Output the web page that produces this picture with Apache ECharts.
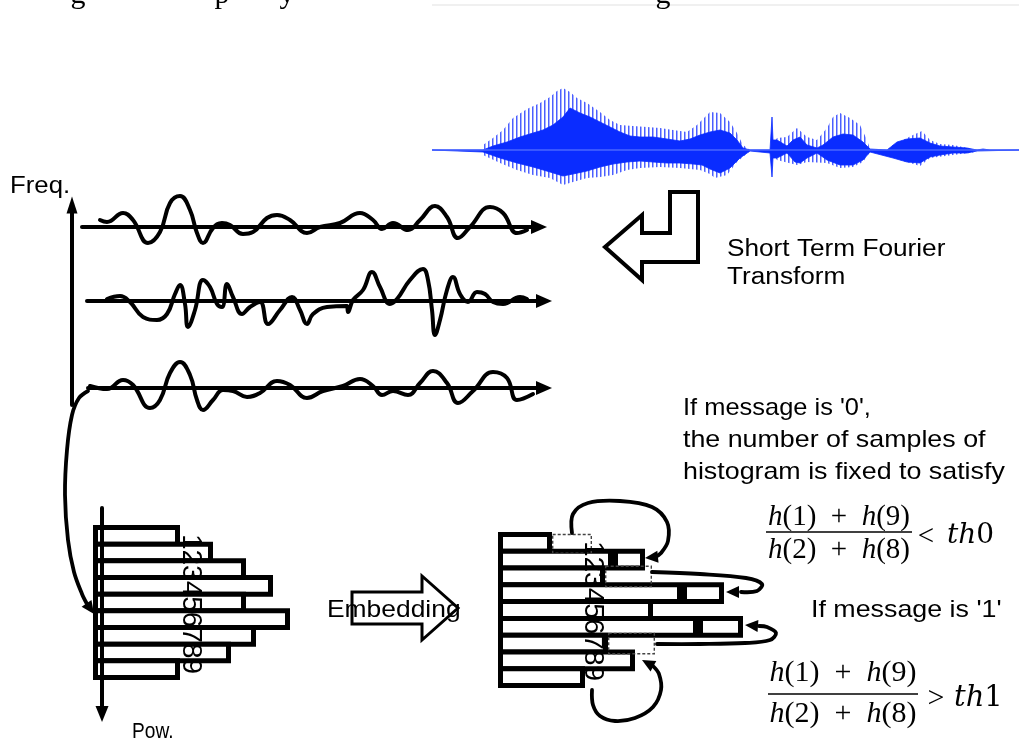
<!DOCTYPE html>
<html><head><meta charset="utf-8">
<script src="https://cdn.jsdelivr.net/npm/echarts@6/dist/echarts.min.js"></script>
<style>html,body{margin:0;padding:0;background:#fff}#c{width:1019px;height:742px}</style>
</head><body><div id="c"></div><script>
// ---------------- DATA ----------------
// speech signal envelope (time units, amplitude units)
const speechBodyUpper = [[17,0],[68,0],[78,4],[92,8],[105,13],[118,17],[128,20],[138,25],[148,33],[155,42],[165,37],[175,33],[185,28],[195,23],[205,18],[215,14],[225,13],[238,13],[252,11],[265,9],[275,11],[285,15],[295,18],[305,20],[315,17],[322,10],[328,2],[335,0],[355,0],[356,0],[357,33],[358,10],[362,10],[372,4],[378,10],[385,13],[392,5],[402,2],[408,5],[418,13],[428,16],[438,15],[448,8],[455,1],[472,0],[482,8],[492,11],[505,12],[515,7],[525,4],[538,3],[552,2],[562,0],[568,1],[575,0],[604,0]];
const speechBodyLower = [[17,0],[68,-2],[85,-8],[102,-13],[118,-17],[135,-22],[148,-26],[158,-24],[172,-21],[185,-17],[198,-14],[212,-12],[225,-11],[238,-12],[252,-13],[265,-13],[278,-14],[287,-15],[295,-19],[305,-23],[315,-18],[325,-8],[335,-1],[355,-3],[356,-3],[357,-27],[358,-8],[362,-8],[372,-3],[380,-12],[385,-13],[392,-8],[402,-3],[412,-10],[425,-15],[438,-15],[448,-10],[455,-2],[478,-8],[492,-12],[505,-13],[515,-7],[525,-5],[538,-3],[552,-3],[562,-1],[604,0]];
const speechPeakUpper = [[68,5],[78,12],[88,20],[98,32],[112,41],[125,47],[135,53],[142,59],[148,62],[155,58],[162,52],[172,47],[185,38],[195,30],[205,25],[218,24],[232,23],[245,22],[258,20],[272,18],[282,25],[290,33],[295,38],[305,37],[315,28],[322,17],[328,5],[335,0],[355,0],[362,12],[372,13],[382,22],[392,13],[402,10],[412,22],[418,33],[425,37],[435,32],[445,25],[452,10],[455,1],[472,0],[478,5],[488,10],[498,15],[507,19],[515,10],[525,6],[538,5],[548,3],[562,0]];
const speechPeakLower = [[68,-5],[85,-13],[102,-20],[118,-25],[135,-28],[148,-35],[158,-32],[172,-28],[185,-27],[198,-25],[212,-20],[225,-18],[245,-17],[265,-18],[285,-20],[295,-24],[300,-28],[312,-25],[322,-12],[335,-1],[355,0],[362,-10],[382,-15],[392,-12],[412,-13],[425,-18],[438,-17],[448,-12],[455,-2],[472,0],[485,-10],[505,-16],[515,-8],[538,-5],[562,-2]];
const speechBaseline = [[17,0],[604,0]];

// three frequency-band signals after STFT (time, amplitude)
const band1 = [[18,7],[25,5],[41,14],[51,7],[66,-16],[78,-5],[88,24],[98,31],[108,17],[115,-6],[121,-16],[131,-1],[140,4],[148,2],[161,-7],[171,-5],[185,9],[195,12],[208,7],[225,-6],[238,0],[258,4],[278,14],[291,7],[300,-2],[311,4],[326,-3],[338,7],[353,21],[365,10],[376,-11],[388,0],[408,20],[421,14],[435,-6],[445,-3]];
const band2 = [[25,2],[38,5],[48,-1],[61,-16],[75,-19],[85,-13],[93,7],[98,16],[103,-3],[106,-26],[113,-9],[121,21],[128,14],[135,-3],[140,-6],[145,17],[151,4],[160,-13],[168,-6],[178,-1],[186,-23],[198,-9],[210,4],[218,-9],[225,-23],[231,-13],[245,-6],[265,-5],[266,-11],[271,1],[281,11],[290,29],[298,14],[308,-3],[315,2],[328,21],[341,32],[346,21],[350,-9],[353,-34],[358,-19],[365,11],[371,24],[378,7],[386,-1],[395,9],[403,7],[411,-1],[421,-3],[438,4],[445,2]];
const band3 = [[8,2],[25,-1],[41,8],[51,3],[68,-20],[78,-12],[88,15],[98,26],[108,13],[115,-12],[121,-22],[131,-12],[141,-2],[151,-3],[165,-9],[178,-5],[195,7],[208,3],[225,-10],[241,-3],[261,2],[278,9],[291,2],[300,-7],[311,-3],[326,-7],[338,5],[351,17],[365,5],[376,-15],[391,-3],[411,16],[425,10],[435,-12],[451,-6]];

// histogram bins and counts
const histBins = ['1','2','3','4','5','6','7','8','9'];
const histBefore = [87,120,153,180,153,197,163,138,87];
const histKept = [54,115,107,184,155,200,110,137,87];
const histAdded = [0,32,0,42,0,45,0,0,0];
const histRemoved = [40,0,47,0,0,0,47,0,0];

// text
const binLabel = '123456789';
const freqLabel = 'Freq.';
const powLabel = 'Pow.';
const stftLines = ['Short Term Fourier','Transform'];
const embedLabel = 'Embedding';
const msg0Lines = ["If message is '0',",'the number of samples of','histogram is fixed to satisfy'];
const msg1Line = "If message is '1'";
const topFragments = ['g','p','y','g'];

// ---------------- RENDER ----------------
const pat = document.createElement('canvas');
pat.width = 4; pat.height = 4;
const pctx = pat.getContext('2d');
pctx.fillStyle = 'rgba(30,55,255,0.8)';
pctx.fillRect(0,0,1.5,4);

const chart = echarts.init(document.getElementById('c'), null, {renderer:'canvas'});
const BLUE = '#0a2cff';
const hidden = {show:false};
function vAxis(extra){ return Object.assign({type:'value', axisLine:hidden, axisTick:hidden, axisLabel:hidden, splitLine:hidden}, extra||{}); }

const BW = 5; // histogram border width
const grids = [
  {left:415, top:80, width:604, height:140},   // 0 speech
  {left:82, top:187, width:457, height:80},    // 1 band1
  {left:87, top:261, width:457, height:80},    // 2 band2
  {left:88, top:348, width:456, height:80},    // 3 band3
  {left:72, top:205, width:10, height:200},    // 4 freq axis
  {left:102, top:508, width:10, height:206},   // 5 pow axis
  {left:93, top:525+BW/2, width:300, height:155-BW},   // 6 left hist
  {left:498, top:532+BW/2, width:300, height:156-BW}   // 7 right hist
];
const leftBand = (155-BW)/9, rightBand = (156-BW)/9;
const axisLineStyle = {color:'#000', width:4};
const xAxes = [
  vAxis({gridIndex:0, min:0, max:604}),
  vAxis({gridIndex:1, min:0, max:457, axisLine:{show:true, onZero:true, symbol:['none','triangle'], symbolSize:[14,16], lineStyle:axisLineStyle}}),
  vAxis({gridIndex:2, min:5, max:462, axisLine:{show:true, onZero:true, symbol:['none','triangle'], symbolSize:[14,16], lineStyle:axisLineStyle}}),
  vAxis({gridIndex:3, min:6, max:462, axisLine:{show:true, onZero:true, symbol:['none','triangle'], symbolSize:[14,16], lineStyle:axisLineStyle}}),
  vAxis({gridIndex:4, min:0, max:1}),
  vAxis({gridIndex:5, min:0, max:1}),
  vAxis({gridIndex:6, min:0, max:300}),
  vAxis({gridIndex:7, min:0, max:300})
];
const yAxes = [
  vAxis({gridIndex:0, min:-70, max:70}),
  vAxis({gridIndex:1, min:-40, max:40}),
  vAxis({gridIndex:2, min:-40, max:40}),
  vAxis({gridIndex:3, min:-40, max:40}),
  vAxis({gridIndex:4, min:0, max:1, z:10, axisLine:{show:true, onZero:false, symbol:['none','triangle'], symbolSize:[11,17], lineStyle:axisLineStyle}}),
  vAxis({gridIndex:5, min:0, max:1, z:10, axisLine:{show:true, onZero:false, symbol:['triangle','none'], symbolSize:[13,16], lineStyle:axisLineStyle}}),
  {type:'category', gridIndex:6, data:histBins, inverse:true, axisLine:hidden, axisTick:hidden, axisLabel:hidden},
  {type:'category', gridIndex:7, data:histBins, inverse:true, axisLine:hidden, axisTick:hidden, axisLabel:hidden}
];

function areaSeries(data, fill, lw){
  return {type:'line', xAxisIndex:0, yAxisIndex:0, data:data, showSymbol:false, silent:true,
    lineStyle:{width:lw, color:BLUE}, areaStyle:{color:fill, opacity:1}};
}
function bandSeries(data, i){
  return {type:'line', xAxisIndex:i, yAxisIndex:i, data:data, smooth:0.45, showSymbol:false, silent:true,
    lineStyle:{width:4, color:'#000', cap:'round', join:'round'}};
}
const barStyle = {color:'#fff', borderColor:'#000', borderWidth:BW};
const nz = (arr)=>arr.map(v=> v===0 ? '-' : v);
const series = [
  areaSeries(speechPeakUpper, {image:pat, repeat:'repeat'}, 0),
  areaSeries(speechPeakLower, {image:pat, repeat:'repeat'}, 0),
  areaSeries(speechBodyUpper, BLUE, 0.8),
  areaSeries(speechBodyLower, BLUE, 0.8),
  {type:'line', xAxisIndex:0, yAxisIndex:0, data:speechBaseline, showSymbol:false, silent:true, lineStyle:{width:1.5, color:'#4a66ff'}},
  bandSeries(band1,1), bandSeries(band2,2), bandSeries(band3,3),
  {type:'bar', xAxisIndex:6, yAxisIndex:6, data:histBefore, barWidth:leftBand+BW, itemStyle:barStyle, silent:true},
  {type:'bar', xAxisIndex:7, yAxisIndex:7, stack:'h', data:histKept, barWidth:rightBand+BW, itemStyle:barStyle, silent:true},
  {type:'bar', xAxisIndex:7, yAxisIndex:7, stack:'h', data:nz(histAdded), itemStyle:barStyle, silent:true},
  {type:'bar', xAxisIndex:7, yAxisIndex:7, stack:'h', data:nz(histRemoved), silent:true,
    itemStyle:{color:'rgba(255,255,255,0)', borderColor:'#444', borderWidth:1.4, borderType:[3,2]}}
];

// ---------- annotations ----------
const G = [];
const SANS = '"Liberation Sans", Arial, sans-serif';
const SERIF = '"Liberation Serif", "Times New Roman", serif';
function txt(x, y, text, size, opts){
  opts = opts || {};
  const align = opts.align || 'left', va = opts.va || 'middle';
  G.push({type:'text', x:x, y:y, z:100, scaleX:opts.sx||1, rotation:opts.rot||0,
    style:{text:text, font:(opts.italic?'italic ':'')+size+'px '+(opts.family||SANS), fill:opts.fill||'#000',
      align:align, textAlign:align, verticalAlign:va, textVerticalAlign:va, rich:opts.rich}});
}
function poly(points, lw, fill){
  G.push({type:'polygon', z:90, shape:{points:points}, style:{fill:fill||'#fff', stroke:'#000', lineWidth:lw, lineJoin:'miter'}});
}
function curve(points, tip, lw){
  G.push({type:'polyline', z:95, shape:{points:points, smooth:0.35}, style:{stroke:'#000', lineWidth:lw||3.8, fill:null, lineCap:'round'}});
  const from = points[points.length-1];
  const dx = tip[0]-from[0], dy = tip[1]-from[1], L = Math.hypot(dx,dy);
  const ux = dx/L, uy = dy/L, len = 13, w = 6;
  const bx = tip[0]-ux*len, by = tip[1]-uy*len;
  G.push({type:'polygon', z:96, shape:{points:[tip,[bx-uy*w,by+ux*w],[bx+uy*w,by-ux*w]]}, style:{fill:'#000'}});
}
function line(x1,y1,x2,y2,lw,color){
  G.push({type:'line', z:100, shape:{x1:x1,y1:y1,x2:x2,y2:y2}, style:{stroke:color||'#000', lineWidth:lw}});
}

// top: faint frame line and cut-off text fragments
line(432,5,1019,5,1.2,'#e2e2e2');
[78,222,287,663].forEach((x,i)=>txt(x,10,topFragments[i],30,{family:SERIF, va:'bottom', align:'center'}));

txt(10,187,freqLabel,23,{sx:1.12});
txt(132,732,powLabel,22,{sx:0.87});

// STFT arrow + text
poly([[605,247],[642,215],[642,233],[670,233],[670,192],[698,192],[698,262],[642,262],[642,280]],4);
txt(727,250,stftLines[0],23.5,{sx:1.115});
txt(727,278,stftLines[1],23.5,{sx:1.115});

// curve from band axis to histogram
curve([[88,391],[79,398],[72,415],[67,450],[65,495],[68,540],[74,572],[82,594],[87,604]],[94,614]);

// bin digits
txt(191,604,binLabel,28,{rot:-Math.PI/2, align:'center'});
txt(593,611,binLabel,28,{rot:-Math.PI/2, align:'center'});

// Embedding arrow
poly([[352,592],[422,592],[422,576],[458,608],[422,640],[422,624],[352,624]],3);
txt(327,610,embedLabel,24,{sx:1.1});

// moving arrows on the right histogram
curve([[572,533],[573,514],[588,503],[620,501],[652,507],[667,522],[668,541],[661,553],[655,557]],[645,558]);
curve([[652,572],[700,574],[746,578],[762,584],[757,591],[741,592]],[726,592]);
curve([[657,644],[700,644],[745,643],[770,640],[776,633],[767,627],[759,626]],[745,625]);
curve([[592,690],[593,705],[600,716],[615,721],[635,718],[653,707],[661,690],[659,674],[653,666]],[642,660]);

// message texts
msg0Lines.forEach((t,i)=>txt(683,408+32*i,t,24,{sx:i===0?1.06:1.117}));
txt(811,610,msg1Line,24,{sx:1.117});

// formulas
const richI = (s)=>({i:{fontStyle:'italic', fontFamily:'Liberation Serif', fontSize:s}, n:{fontFamily:'Liberation Serif', fontSize:s},
  ti:{fontStyle:'italic', fontFamily:'DejaVu Serif', fontSize:s-1}, tn:{fontFamily:'DejaVu Serif', fontSize:s-1}});
function formula(cx, yNum, yBar, yDen, x1, x2, size, rel, relX, thText, thLeft){
  txt(cx,yNum,'{i|h}{n|(1)  +  }{i|h}{n|(9)}',size,{family:SERIF, align:'center', rich:richI(size)});
  line(x1,yBar,x2,yBar,1.5);
  txt(cx,yDen,'{i|h}{n|(2)  +  }{i|h}{n|(8)}',size,{family:SERIF, align:'center', rich:richI(size)});
  txt(relX,yBar+5,rel,size,{family:SERIF, align:'center'});
  txt(thLeft,yBar+4,'{ti|th}{tn|'+thText+'}',size,{family:SERIF, align:'left', rich:richI(size)});
}
formula(839,517,532,550,766,912,29,'<',926,'0',947);
formula(843,673,694,714,768,918,30,'>',936,'1',954);

chart.setOption({
  animation:false,
  backgroundColor:'#fff',
  grid:grids, xAxis:xAxes, yAxis:yAxes, series:series,
  graphic:{elements:G}
});
</script></body></html>
